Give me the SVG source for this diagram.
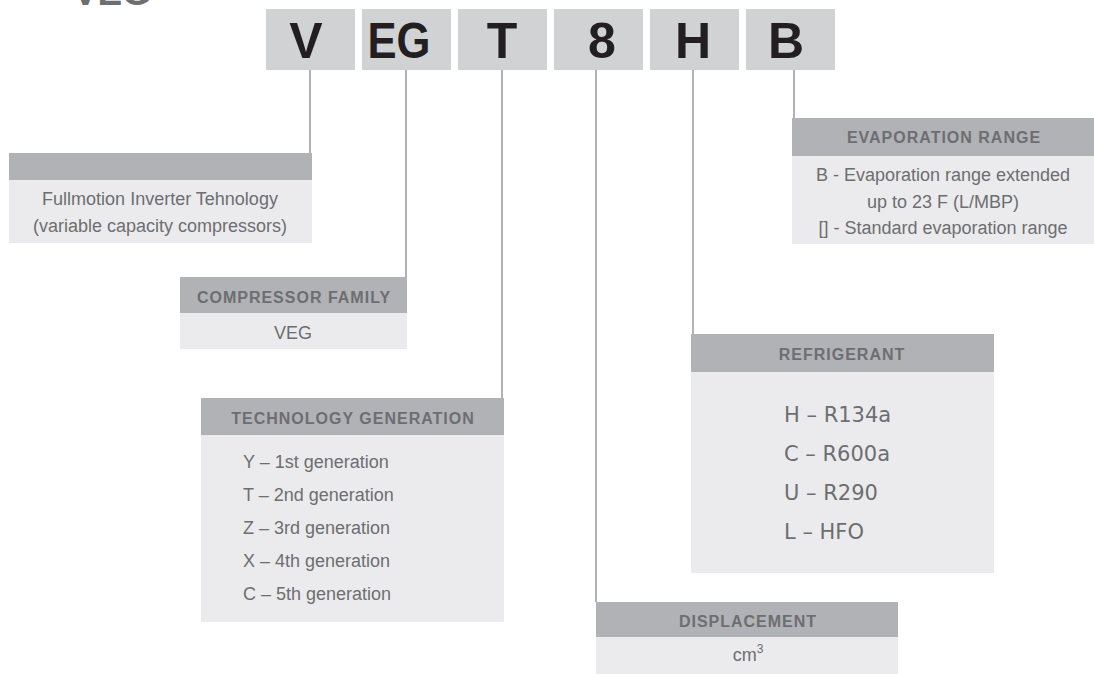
<svg xmlns="http://www.w3.org/2000/svg" width="1094" height="674" viewBox="0 0 1094 674">
<style>
.code{fill:#d1d2d4}
.codet{font-family:"Liberation Sans",Arial,sans-serif;font-weight:bold;font-size:50px;fill:#231f20;text-anchor:middle}
.hd{fill:#b1b2b5}
.bd{fill:#ebebed}
.ht{font-family:"Liberation Sans",Arial,sans-serif;font-weight:bold;font-size:16px;letter-spacing:1px;fill:#6d6e71;text-anchor:middle}
.bt{font-family:"Liberation Sans",Arial,sans-serif;font-size:18px;fill:#6d6e71}
.rt{font-family:"DejaVu Sans",sans-serif;font-size:21px;fill:#6d6e71}
.c{text-anchor:middle}
.ln{stroke:#b1b2b5;stroke-width:2;fill:none}
</style>
<rect width="1094" height="674" fill="#ffffff"/>
<text x="112" y="5" font-family="Liberation Sans,Arial,sans-serif" font-weight="bold" font-size="37" fill="#6d6e71" text-anchor="middle">VEG</text>
<g id="code">
<rect class="code" x="266" y="9" width="89" height="61"/><text class="codet" x="306" y="58">V</text>
<rect class="code" x="362" y="9" width="89" height="61"/><text class="codet" x="399" y="58" textLength="63" lengthAdjust="spacingAndGlyphs">EG</text>
<rect class="code" x="458" y="9" width="89" height="61"/><text class="codet" x="502" y="58">T</text>
<rect class="code" x="554" y="9" width="89" height="61"/><text class="codet" x="602" y="58">8</text>
<rect class="code" x="650" y="9" width="89" height="61"/><text class="codet" x="693" y="58">H</text>
<rect class="code" x="746" y="9" width="89" height="61"/><text class="codet" x="786" y="58">B</text>
</g>
<g id="connectors">
<line class="ln" x1="310" y1="70" x2="310" y2="153"/>
<line class="ln" x1="406" y1="70" x2="406" y2="277"/>
<line class="ln" x1="502" y1="70" x2="502" y2="398"/>
<line class="ln" x1="596" y1="70" x2="596" y2="602"/>
<line class="ln" x1="693" y1="70" x2="693" y2="334"/>
<line class="ln" x1="794" y1="70" x2="794" y2="118"/>
</g>
<g id="inverter">
<rect class="hd" x="9" y="153" width="303" height="27"/>
<rect class="bd" x="9" y="180" width="303" height="63"/>
<text class="bt c" x="160" y="205">Fullmotion Inverter Tehnology</text>
<text class="bt c" x="160" y="232">(variable capacity compressors)</text>
</g>
<g id="family">
<rect class="hd" x="180" y="277" width="227" height="36"/>
<rect class="bd" x="180" y="313" width="227" height="36"/>
<text class="ht" x="294" y="303">COMPRESSOR FAMILY</text>
<text class="bt c" x="293" y="339">VEG</text>
</g>
<g id="technology">
<rect class="hd" x="201" y="398" width="303" height="37"/>
<rect class="bd" x="201" y="435" width="303" height="187"/>
<text class="ht" x="353" y="424">TECHNOLOGY GENERATION</text>
<text class="bt" x="243" y="468">Y – 1st generation</text>
<text class="bt" x="243" y="501">T – 2nd generation</text>
<text class="bt" x="243" y="534">Z – 3rd generation</text>
<text class="bt" x="243" y="567">X – 4th generation</text>
<text class="bt" x="243" y="600">C – 5th generation</text>
</g>
<g id="displacement">
<rect class="hd" x="596" y="602" width="302" height="35"/>
<rect class="bd" x="596" y="637" width="302" height="37"/>
<text class="ht" x="748" y="627">DISPLACEMENT</text>
<text class="bt c" x="748" y="661" font-size="19">cm<tspan font-size="12" dy="-8">3</tspan></text>
</g>
<g id="refrigerant">
<rect class="hd" x="691" y="334" width="303" height="38"/>
<rect class="bd" x="691" y="372" width="303" height="201"/>
<text class="ht" x="842" y="360">REFRIGERANT</text>
<text class="rt" x="784" y="422">H – R134a</text>
<text class="rt" x="784" y="461">C – R600a</text>
<text class="rt" x="784" y="500">U – R290</text>
<text class="rt" x="784" y="539">L – HFO</text>
</g>
<g id="evaporation">
<rect class="hd" x="792" y="118" width="302" height="38"/>
<rect class="bd" x="792" y="156" width="302" height="88"/>
<text class="ht" x="944" y="143">EVAPORATION RANGE</text>
<text class="bt c" x="943" y="181">B - Evaporation range extended</text>
<text class="bt c" x="943" y="208">up to 23 F (L/MBP)</text>
<text class="bt c" x="943" y="234">[] - Standard evaporation range</text>
</g>
</svg>
